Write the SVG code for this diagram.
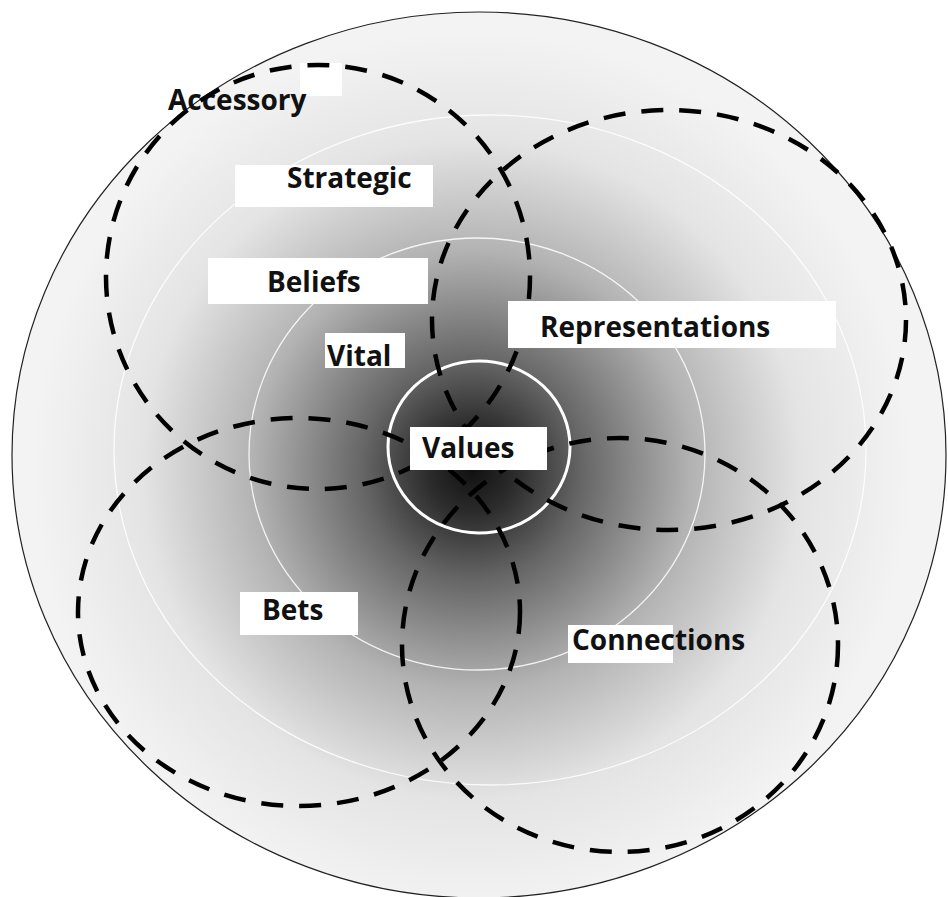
<svg xmlns="http://www.w3.org/2000/svg" width="948" height="897" viewBox="0 0 948 897">
<defs>
<radialGradient id="bg" gradientUnits="userSpaceOnUse" cx="472" cy="470" r="440">
<stop offset="0" stop-color="#111"/>
<stop offset="0.1" stop-color="#2c2c2c"/>
<stop offset="0.25" stop-color="#666"/>
<stop offset="0.5" stop-color="#b3b3b3"/>
<stop offset="0.75" stop-color="#e4e4e4"/>
<stop offset="1" stop-color="#f3f3f3"/>
</radialGradient>
<style>
.ring{fill:none;stroke:#fff;stroke-width:1.3;opacity:0.85}
.dash{fill:none;stroke:#000;stroke-width:4.5;stroke-dasharray:22 16}
.box{fill:#fff}
.lbl{font-family:"Open Sans","Liberation Sans",sans-serif;font-weight:700;font-size:28px;fill:#111}
</style>
</defs>
<rect width="948" height="897" fill="#fff"/>
<g id="background">
<ellipse cx="479" cy="455" rx="467" ry="443" fill="url(#bg)" stroke="#222" stroke-width="1.2"/>
<ellipse class="ring" cx="490" cy="450" rx="376" ry="335"/>
<ellipse class="ring" cx="477" cy="454" rx="228" ry="216"/>
<ellipse cx="479" cy="447" rx="91" ry="86" fill="none" stroke="#fff" stroke-width="3"/>
</g>
<g id="label-accessory">
<rect class="box" x="300" y="63" width="42" height="33"/>
<text class="lbl" x="168" y="110">Accessory</text>
</g>
<g id="connectors">
<ellipse class="dash" cx="318" cy="277" rx="212" ry="212"/>
<ellipse class="dash" cx="669" cy="320" rx="237" ry="210"/>
<ellipse class="dash" cx="299" cy="612" rx="221" ry="194"/>
<ellipse class="dash" cx="620" cy="645" rx="218" ry="207"/>
</g>
<g id="label-strategic">
<rect class="box" x="235" y="165" width="198" height="42"/>
<text class="lbl" x="287" y="188">Strategic</text>
</g>
<g id="label-beliefs">
<rect class="box" x="208" y="258" width="220" height="46"/>
<text class="lbl" x="267" y="292">Beliefs</text>
</g>
<g id="label-vital">
<rect class="box" x="325" y="333" width="80" height="35"/>
<text class="lbl" x="327" y="366">Vital</text>
</g>
<g id="label-representations">
<rect class="box" x="508" y="301" width="328" height="47"/>
<text class="lbl" x="540" y="337">Representations</text>
</g>
<g id="label-values">
<rect class="box" x="410" y="427" width="137" height="43"/>
<text class="lbl" x="422" y="458">Values</text>
</g>
<g id="label-bets">
<rect class="box" x="240" y="592" width="118" height="43"/>
<text class="lbl" x="262" y="620">Bets</text>
</g>
<g id="label-connections">
<rect class="box" x="568" y="625" width="105" height="38"/>
<text class="lbl" x="572" y="650">Connections</text>
</g>
</svg>
